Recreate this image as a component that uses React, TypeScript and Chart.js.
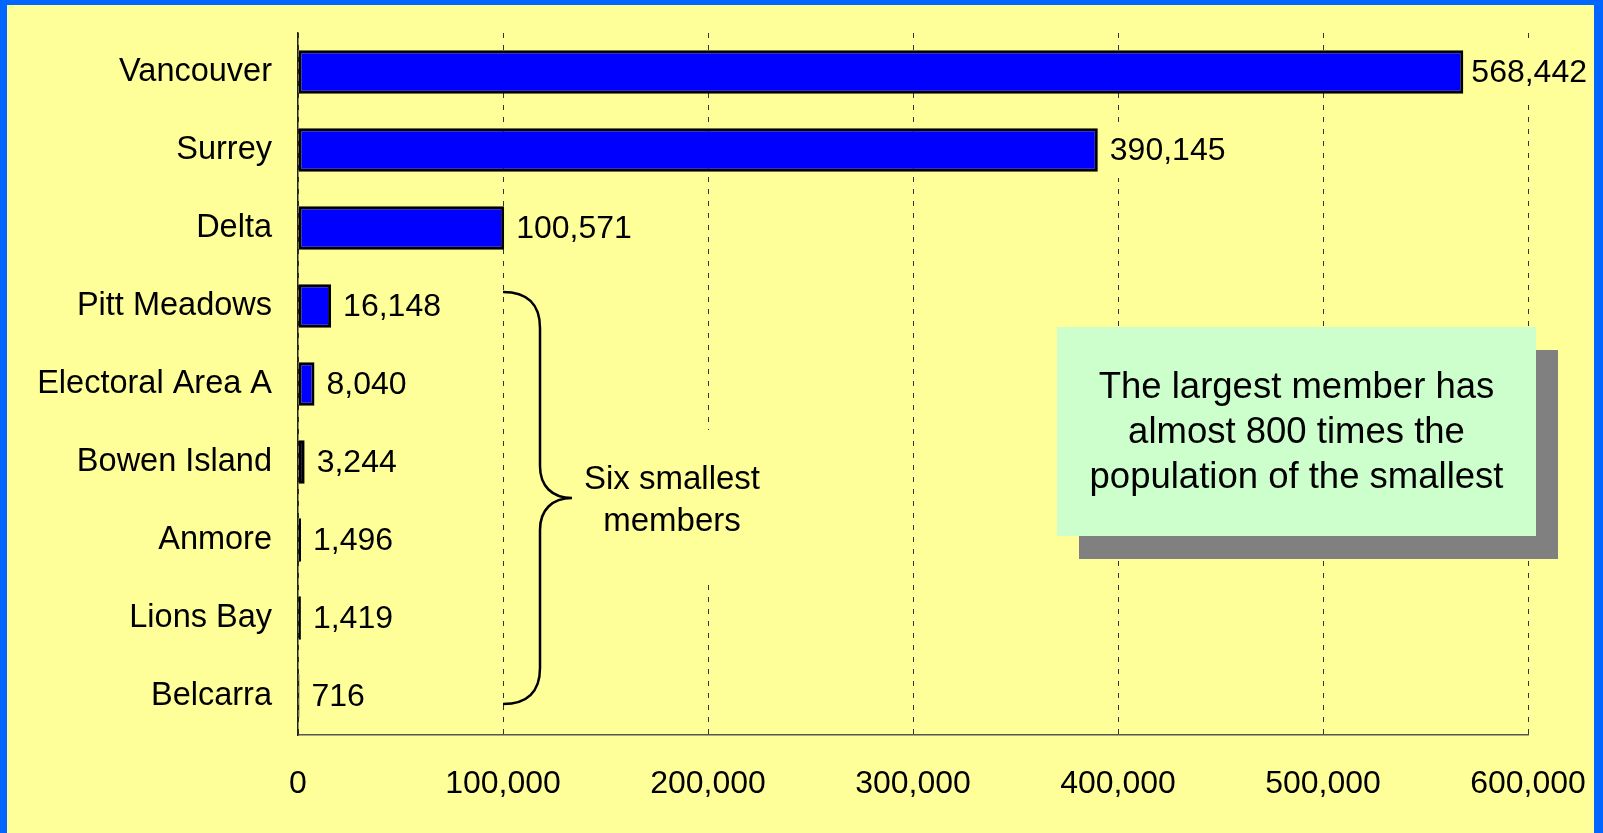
import React, { useEffect, useRef } from "react";
import { Chart, registerables } from "chart.js";

Chart.register(...registerables);

const FONT = "'Liberation Sans', Arial, Helvetica, sans-serif";
const BG = "#FFFF99";

const categories = [
  "Vancouver",
  "Surrey",
  "Delta",
  "Pitt Meadows",
  "Electoral Area A",
  "Bowen Island",
  "Anmore",
  "Lions Bay",
  "Belcarra",
];
const population = [568442, 390145, 100571, 16148, 8040, 3244, 1496, 1419, 716];
const xTickValues = [0, 100000, 200000, 300000, 400000, 500000, 600000];
const braceLabel = ["Six smallest", "members"];
const braceFirstIndex = 3;
const braceLastIndex = 8;
const braceAtValue = 100000;
const noteLines = ["The largest member has", "almost 800 times the", "population of the smallest"];

const fmt = (v: number) => v.toLocaleString("en-US");

const overlay = {
  id: "overlay",
  afterDatasetsDraw(chart: any) {
    const ctx = chart.ctx as CanvasRenderingContext2D;
    const meta = chart.getDatasetMeta(0);
    const limit = chart.width - 7;
    ctx.save();
    ctx.font = `32px ${FONT}`;
    ctx.textBaseline = "middle";
    ctx.textAlign = "left";
    meta.data.forEach((bar: any, i: number) => {
      const txt = fmt(population[i]);
      const w = ctx.measureText(txt).width;
      const x = Math.min(bar.x + 12, limit - w);
      const y = bar.y;
      ctx.fillStyle = BG;
      ctx.fillRect(x - 2, y - 28, w + 4, 56);
      ctx.fillStyle = "#000";
      ctx.fillText(txt, x, y + 1);
    });

    // brace
    const xs = chart.scales.x;
    const ys = chart.scales.y;
    const x0 = xs.getPixelForValue(braceAtValue);
    const yTop = ys.getPixelForValue(braceFirstIndex) - 14;
    const yBot = ys.getPixelForValue(braceLastIndex) + 8;
    const yMid = (yTop + yBot) / 2;
    const xv = x0 + 37;
    const xt = x0 + 69;

    ctx.font = `33px ${FONT}`;
    const tw = Math.max(...braceLabel.map((t) => ctx.measureText(t).width));
    const tcx = xt + 100;
    ctx.fillStyle = BG;
    ctx.fillRect(tcx - tw / 2 - 8, yMid - 68, tw + 16, 153);

    ctx.strokeStyle = "#000";
    ctx.lineWidth = 2.5;
    ctx.beginPath();
    ctx.moveTo(x0, yTop);
    ctx.bezierCurveTo(x0 + 24, yTop, xv, yTop + 12, xv, yTop + 36);
    ctx.lineTo(xv, yMid - 32);
    ctx.bezierCurveTo(xv, yMid - 12, xv + 12, yMid, xt, yMid);
    ctx.bezierCurveTo(xv + 12, yMid, xv, yMid + 12, xv, yMid + 32);
    ctx.lineTo(xv, yBot - 36);
    ctx.bezierCurveTo(xv, yBot - 12, x0 + 24, yBot, x0, yBot);
    ctx.stroke();

    ctx.fillStyle = "#000";
    ctx.textAlign = "center";
    ctx.textBaseline = "middle";
    ctx.fillText(braceLabel[0], tcx, yMid - 18);
    ctx.fillText(braceLabel[1], tcx, yMid + 24);
    ctx.restore();
  },
  afterDraw(chart: any) {
    const ctx = chart.ctx as CanvasRenderingContext2D;
    const ca = chart.chartArea;
    const left = ca.right - 471;
    const top = ca.top + 294;
    const w = 479;
    const h = 209;
    ctx.save();
    ctx.fillStyle = "#808080";
    ctx.fillRect(left + 22, top + 23, w, h);
    ctx.fillStyle = "#CCFFCC";
    ctx.fillRect(left, top, w, h);
    ctx.fillStyle = "#000";
    ctx.font = `36.5px ${FONT}`;
    ctx.textAlign = "center";
    ctx.textBaseline = "alphabetic";
    const cx = left + w / 2;
    const baselines = [71, 116, 161];
    noteLines.forEach((t, i) => ctx.fillText(t, cx, top + baselines[i]));
    ctx.restore();
  },
};

export default function App() {
  const ref = useRef<HTMLCanvasElement | null>(null);

  useEffect(() => {
    if (!ref.current) return;
    Chart.defaults.font.family = FONT;
    const chart = new Chart(ref.current, {
      type: "bar",
      data: {
        labels: categories,
        datasets: [
          {
            data: population,
            backgroundColor: "#0000FF",
            borderColor: "#000000",
            borderWidth: 3,
            borderSkipped: false,
            barPercentage: 0.56,
            categoryPercentage: 1,
          },
        ],
      },
      options: {
        indexAxis: "y",
        animation: false,
        responsive: false,
        devicePixelRatio: 1,
        layout: { padding: { top: 28, right: 66, bottom: 0, left: 0 } },
        plugins: { legend: { display: false }, tooltip: { enabled: false } },
        scales: {
          x: {
            min: 0,
            max: 600000,
            afterBuildTicks: (scale: any) => {
              scale.ticks = xTickValues.map((v) => ({ value: v }));
            },
            afterFit: (scale: any) => {
              scale.height = 98;
              scale.paddingLeft = 0;
              scale.paddingRight = 0;
            },
            ticks: {
              color: "#000",
              font: { size: 32, family: FONT },
              padding: 30,
              maxRotation: 0,
              callback: (v: any) => fmt(Number(v)),
            },
            grid: {
              color: "#333333",
              lineWidth: 1,
              drawTicks: false,
              tickLength: 0,
            },
            border: { display: true, color: "#555555", width: 1.5, dash: [5, 7] },
          },
          y: {
            afterFit: (scale: any) => {
              scale.width = 291;
              scale.paddingTop = 0;
              scale.paddingBottom = 0;
            },
            ticks: {
              color: "#000",
              font: { size: 32.5, family: FONT },
              padding: 26,
            },
            grid: { display: false, drawTicks: false, tickLength: 0 },
            border: { display: true, color: "#222222", width: 1.5 },
          },
        },
      },
      plugins: [overlay],
    } as any);
    return () => chart.destroy();
  }, []);

  return (
    <div
      style={{
        position: "fixed",
        left: 0,
        top: 0,
        width: 1603,
        height: 833,
        background: "#0066FF",
        overflow: "hidden",
      }}
    >
      <canvas
        ref={ref}
        width={1587}
        height={828}
        style={{ position: "absolute", left: 7, top: 5, width: 1587, height: 828, background: BG }}
      />
    </div>
  );
}
